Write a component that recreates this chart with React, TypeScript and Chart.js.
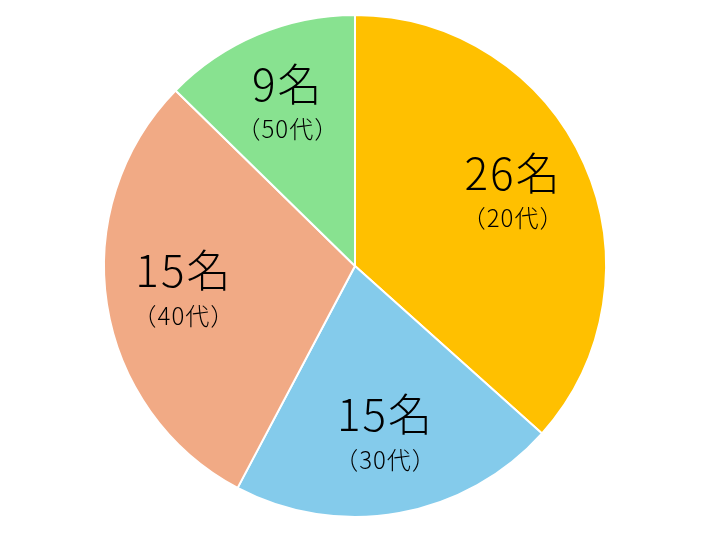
import React, { useEffect, useRef } from 'react';
import { Chart, registerables } from 'chart.js';

Chart.register(...registerables);

const ageGroups = ['20代', '30代', '40代', '50代'];
// slice sizes as drawn in the picture
const sliceValues = [26, 15, 21, 9];
// headcount text printed on each slice
const headcountLabels = ['26名', '15名', '15名', '9名'];
const sliceColors = ['#FFC000', '#84CBEB', '#F1AA85', '#88E290'];

const FONT = '"Noto Sans CJK JP", "Noto Sans", sans-serif';

// draws "xx名" and "（xx代）" inside each slice
const sliceLabels = {
  id: 'sliceLabels',
  afterDatasetsDraw(chart: Chart) {
    const ctx: any = chart.ctx;
    const meta = chart.getDatasetMeta(0);
    meta.data.forEach((el: any, i: number) => {
      const { x, y, startAngle, endAngle, outerRadius } = el.getProps(
        ['x', 'y', 'startAngle', 'endAngle', 'outerRadius'],
        true
      );
      const mid = (startAngle + endAngle) / 2;
      const r = outerRadius * 0.69;
      const cx = x + Math.cos(mid) * r;
      const cy = y + Math.sin(mid) * r;
      ctx.save();
      ctx.fillStyle = '#000';
      ctx.textAlign = 'center';
      ctx.textBaseline = 'middle';
      ctx.letterSpacing = '2px';
      ctx.font = `300 44px ${FONT}`;
      ctx.fillText(headcountLabels[i], cx, cy - 22);
      ctx.letterSpacing = '1px';
      ctx.font = `300 24px ${FONT}`;
      ctx.fillText(`（${ageGroups[i]}）`, cx, cy + 23);
      ctx.restore();
    });
  },
};

const App: React.FC = () => {
  const canvasRef = useRef<HTMLCanvasElement>(null);

  useEffect(() => {
    document.body.style.margin = '0';
    if (!canvasRef.current) return;
    const chart = new Chart(canvasRef.current, {
      type: 'pie',
      data: {
        labels: ageGroups,
        datasets: [
          {
            data: sliceValues,
            backgroundColor: sliceColors,
            borderColor: '#ffffff',
            borderWidth: 2,
          },
        ],
      },
      options: {
        responsive: false,
        animation: false,
        layout: { padding: { top: 14, bottom: 15 } },
        plugins: {
          legend: { display: false },
          tooltip: { enabled: false },
        },
      },
      plugins: [sliceLabels],
    });
    return () => chart.destroy();
  }, []);

  return (
    <div style={{ width: 710, height: 533 }}>
      <canvas ref={canvasRef} width={710} height={533} />
    </div>
  );
};

export default App;
